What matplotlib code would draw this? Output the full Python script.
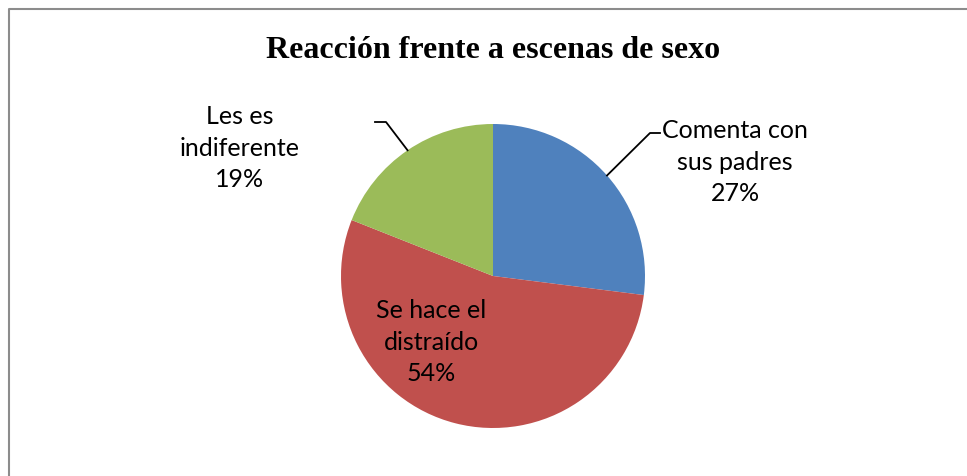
import numpy as np
import matplotlib
matplotlib.use('Agg')
import matplotlib.pyplot as plt

categories = ['Comenta con\nsus padres', 'Se hace el\ndistraído', 'Les es\nindiferente']
shares = [27, 54, 19]
colors = ['#4F81BD', '#C0504D', '#9BBB59']
title = 'Reacción frente a escenas de sexo'

W, H = 967, 477
fig = plt.figure(figsize=(W / 100, H / 100), dpi=100)
ax = fig.add_axes([0, 0, 1, 1])

# chart frame (left and top edges only visible)
ax.plot([8.5, 8.5, W + 5], [0, H - 9.5, H - 9.5], color='#8c8c8c', lw=1.5, clip_on=False)

cx, cy, r = 493, H - 277, 152
wedges, _ = ax.pie(shares, colors=colors, startangle=90, counterclock=False,
                   center=(cx, cy), radius=r, frame=True,
                   wedgeprops=dict(linewidth=0))
ax.set_xlim(0, W)
ax.set_ylim(0, H)
ax.axis('off')

lab_font = dict(family='Lato', fontsize=18, ha='center', va='center',
                linespacing=1.45, color='black')

# label positions (pixels) and leader-line elbows
label_pos = [(735, 162), (431, 342), (240, 148)]
elbows = [((650, 134), (660, 134)), None, ((386, 123), (375, 123))]

for w, cat, pct, (lx, ly), elb in zip(wedges, categories, shares, label_pos, elbows):
    ax.text(lx, H - ly, f'{cat}\n{pct}%', **lab_font)
    if elb is not None:
        mid = np.deg2rad((w.theta1 + w.theta2) / 2)
        px, py = cx + r * np.cos(mid), cy + r * np.sin(mid)
        (ex, ey), (hx, hy) = elb
        ax.plot([px, ex, hx], [py, H - ey, H - hy], color='black', lw=1.3)

ax.text(493, H - 50, title, family='Liberation Serif', fontweight='bold',
        fontsize=23, ha='center', va='center')

fig.savefig('out.png', dpi=100)
